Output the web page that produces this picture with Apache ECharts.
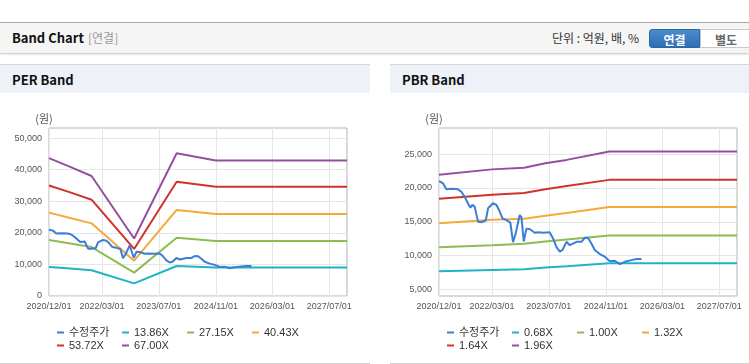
<!DOCTYPE html>
<html><head><meta charset="utf-8">
<script src="https://cdn.jsdelivr.net/npm/echarts@6/dist/echarts.min.js"></script>
<style>
html,body{margin:0;padding:0}
body{width:749px;height:364px;overflow:hidden;background:#fff;position:relative;font-family:"Noto Sans CJK KR","Noto Sans",sans-serif}
.abs{position:absolute}
#hdr{left:0;top:22px;width:749px;height:30px;background:#f5f5f5;border-top:1px solid #a9a9a9;box-shadow:0 1px 2px rgba(0,0,0,.25)}
.ttl{position:absolute;font-weight:bold;font-size:13px;color:#111;line-height:16px}
.ph{top:64px;height:28px;background:#eef2f8;border-top:1px solid #d6d6d6}
.btn{position:absolute;top:6px;height:19px;line-height:19px;font-size:12px;font-weight:bold;text-align:center;box-sizing:border-box}
#chart{position:absolute;left:0;top:0;width:749px;height:364px;z-index:2}
</style></head><body>
<div id="hdr" class="abs">
  <span class="ttl" style="left:12px;top:7px">Band Chart</span>
  <span class="abs" style="left:88px;top:7px;font-size:12px;line-height:16px;color:#9a9a9a">[연결]</span>
  <span class="abs" style="left:552px;top:7px;font-size:12px;line-height:16px;color:#333">단위 : 억원, 배, %</span>
  <div class="btn" style="left:649px;width:51px;background:linear-gradient(#4a8ccc,#2d6fb3);color:#fff;border:1px solid #2a66a6;border-radius:3px 0 0 3px">연결</div>
  <div class="btn" style="left:700px;width:52px;background:#fff;color:#666;border:1px solid #c8c8c8">별도</div>
</div>
<div class="abs ph" style="left:0;width:370px"><span class="ttl" style="left:12px;top:7px">PER Band</span></div>
<div class="abs ph" style="left:390px;width:359px"><span class="ttl" style="left:12px;top:7px">PBR Band</span></div>
<div class="abs" style="left:0;top:363px;width:370px;height:1px;background:#cfcfcf"></div>
<div class="abs" style="left:390px;top:363px;width:359px;height:1px;background:#cfcfcf"></div>
<div id="chart"></div>
<script>
// ---- data ----
const xTicks = ['2020-12-01','2022-03-01','2023-07-01','2024-11-01','2026-03-01','2027-07-01'];
const xMin = '2020-12-01';
const xMax = '2027-12-01';
const perYTicks = [0,10000,20000,30000,40000,50000];
const pbrYTicks = [5000,10000,15000,20000,25000];

const priceDates = ['2020-12-01','2020-12-07','2021-01-04','2021-02-02','2021-03-17','2021-05-13','2021-06-11','2021-07-09','2021-08-07','2021-08-27','2021-09-13','2021-10-03','2021-11-01','2021-11-29','2022-01-06','2022-01-26','2022-03-09','2022-04-07','2022-04-30','2022-05-29','2022-07-02','2022-08-05','2022-08-28','2022-09-20','2022-10-10','2022-10-24','2022-11-08','2022-11-28','2022-12-21','2023-01-18','2023-03-02','2023-03-31','2023-05-13','2023-07-09','2023-08-06','2023-09-04','2023-10-03','2023-10-26','2023-11-29','2023-12-28','2024-02-23','2024-04-06','2024-05-04','2024-06-02','2024-06-30','2024-07-29','2024-09-10','2024-10-23','2024-12-05','2025-01-17','2025-03-01','2025-04-13','2025-06-09','2025-07-22','2025-09-03'];
const priceValues = [21000,21050,20700,19800,19900,19800,19450,18700,17700,17100,17500,17250,15000,14950,15200,17000,17750,17500,16750,15500,15250,14900,12000,13300,14900,16000,15700,12100,14000,13950,13400,13450,13400,13450,12550,11300,10600,10850,12050,11550,12050,12050,12650,12600,11800,10850,10250,9850,9200,9250,8750,9100,9350,9500,9500];

const perNames = ['수정주가','13.86X','27.15X','40.43X','53.72X','67.00X'];
const perBandDates = ['2020-12-01','2021-06-01','2021-12-01','2022-12-01','2023-12-01','2024-11-01','2027-12-01'];
const per1386 = [9200,8700,8150,4000,9500,9000,9000];
const per2715 = [17700,16600,15500,7400,18450,17450,17450];
const per4043 = [26400,24700,23000,11200,27250,25950,25950];
const per5372 = [35000,32800,30500,14900,36200,34600,34600];
const per6700 = [43650,40900,38000,18200,45200,42900,42900];

const pbrNames = ['수정주가','0.68X','1.00X','1.32X','1.64X','1.96X'];
const pbrBandDates = ['2020-12-01','2022-03-01','2022-12-01','2023-06-01','2023-12-01','2024-12-01','2027-12-01'];
const pbr068 = [7700,7900,8000,8250,8450,8880,8880];
const pbr100 = [11250,11550,11750,12100,12400,13000,13000];
const pbr132 = [14800,15300,15450,15900,16300,17200,17200];
const pbr164 = [18400,19000,19250,19800,20300,21200,21200];
const pbr196 = [21950,22750,23000,23650,24150,25400,25400];

const colors = ['#3b7dd8','#1db4c6','#8fbb53','#f5a93a','#d0322c','#944f9f'];

// ---- chart ----
const pair = (ds, vs) => ds.map((d, i) => [d, vs[i]]);
const fmtNum = v => Number(v).toLocaleString('en-US');
const axisFont = 'Liberation Sans, Arial, sans-serif';

function xAxisFor(i) {
  return {
    type: 'time', gridIndex: i, min: xMin, max: xMax,
    axisLine: {show: false},
    axisTick: {show: false, customValues: xTicks},
    axisLabel: {customValues: xTicks, formatter: '{yyyy}/{MM}/{dd}', fontSize: 9, color: '#555', margin: 6, fontFamily: axisFont},
    splitLine: {show: true, lineStyle: {color: '#e6e6e6', width: 1}}
  };
}
function yAxisFor(i, min, max, ticks) {
  return {
    type: 'value', gridIndex: i, min: min, max: max,
    name: '(원)', nameLocation: 'end', nameGap: 4,
    nameTextStyle: {fontSize: 11, color: '#555', align: 'center', padding: [0, 10, 0, 0], fontFamily: 'Noto Sans CJK KR'},
    axisLine: {show: false},
    axisTick: {show: false, customValues: ticks},
    axisLabel: {customValues: ticks, formatter: fmtNum, fontSize: 9, color: '#555', margin: 7, fontFamily: axisFont},
    splitLine: {show: true, lineStyle: {color: '#e6e6e6', width: 1}}
  };
}
function line(name, data, color, gi, z) {
  return {
    type: 'line', name: name, data: data, xAxisIndex: gi, yAxisIndex: gi,
    showSymbol: false, symbol: 'none', animation: false, z: z || 2,
    lineStyle: {color: color, width: 2}, itemStyle: {color: color}
  };
}
const legendBase = {
  icon: 'rect', itemWidth: 7, itemHeight: 2, itemGap: 0, top: 321, width: 262, orient: 'horizontal',
  selectedMode: false,
  textStyle: {fontSize: 11, color: '#333', width: 53, lineHeight: 13, fontFamily: 'Liberation Sans, Noto Sans CJK KR, sans-serif'}
};

const perBands = [per1386, per2715, per4043, per5372, per6700];
const pbrBands = [pbr068, pbr100, pbr132, pbr164, pbr196];
const series = [];
perBands.forEach((b, k) => series.push(line(perNames[k + 1], pair(perBandDates, b), colors[k + 1], 0)));
series.push(line(perNames[0], pair(priceDates, priceValues), colors[0], 0, 3));
pbrBands.forEach((b, k) => series.push(line(pbrNames[k + 1], pair(pbrBandDates, b), colors[k + 1], 1)));
series.push(line(pbrNames[0], pair(priceDates, priceValues), colors[0], 1, 3));

const chart = echarts.init(document.getElementById('chart'), null, {renderer: 'canvas'});
chart.setOption({
  backgroundColor: 'transparent',
  animation: false,
  grid: [
    {left: 49, top: 128, width: 298, height: 168, show: true, borderColor: '#b4b4b4', borderWidth: 1, containLabel: false},
    {left: 439, top: 128, width: 298, height: 168, show: true, borderColor: '#b4b4b4', borderWidth: 1, containLabel: false}
  ],
  xAxis: [xAxisFor(0), xAxisFor(1)],
  yAxis: [yAxisFor(0, 0, 53200, perYTicks), yAxisFor(1, 4050, 28860, pbrYTicks)],
  legend: [
    Object.assign({}, legendBase, {left: 52, data: perNames}),
    Object.assign({}, legendBase, {left: 442, data: pbrNames})
  ],
  series: series
});
</script>
</body></html>
